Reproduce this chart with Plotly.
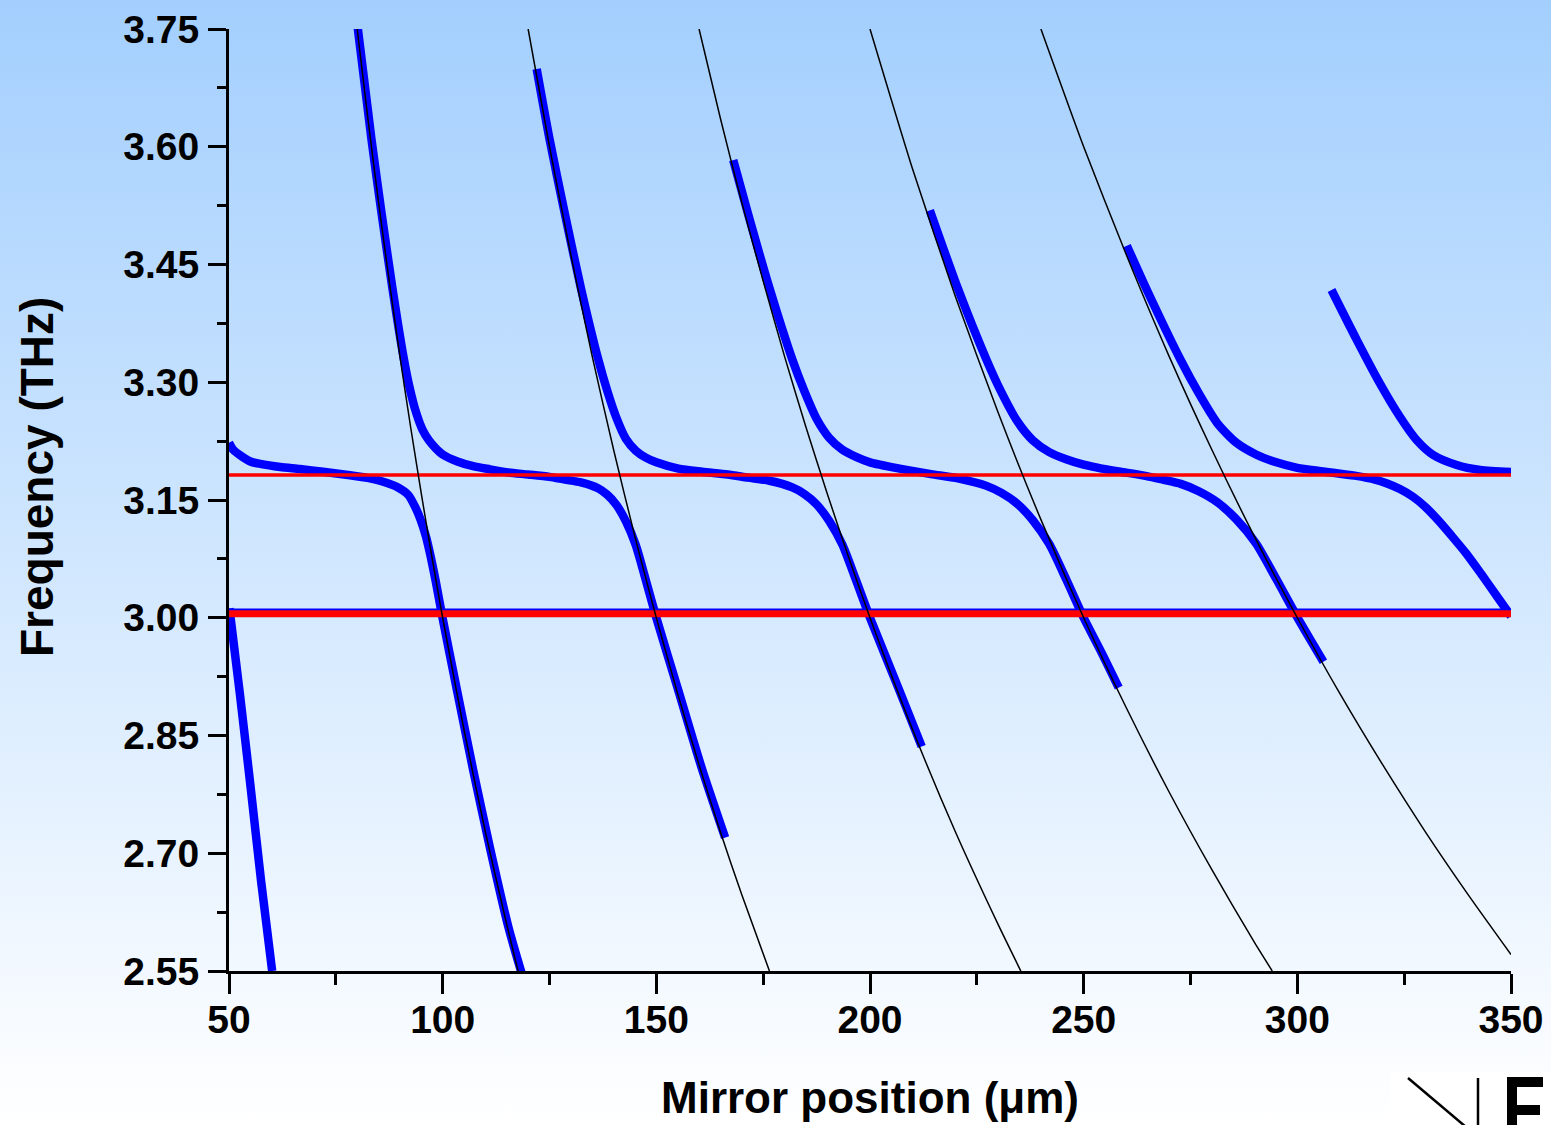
import base64
import plotly.graph_objects as go

# ---------------- data ----------------
# thin black curves: uncoupled cavity modes
black_m2_x = [80.0, 82.5, 85.0, 87.5, 90.0, 92.5, 95.0, 97.5, 100.0, 105.0, 110.0, 115.0, 117.65]
black_m2_y = [3.75, 3.636, 3.529, 3.429, 3.333, 3.243, 3.158, 3.077, 3.0, 2.857, 2.727, 2.609, 2.55]
black_m3_x = [120.0, 125.0, 130.0, 135.0, 140.0, 145.0, 150.0, 155.0, 160.0, 165.0, 170.0, 176.47]
black_m3_y = [3.75, 3.6, 3.462, 3.333, 3.214, 3.103, 3.0, 2.903, 2.8125, 2.727, 2.647, 2.55]
black_m4_x = [160.0, 165.0, 170.0, 175.0, 180.0, 185.0, 190.0, 195.0, 200.0, 210.0, 220.0, 230.0, 235.29]
black_m4_y = [3.75, 3.636, 3.529, 3.429, 3.333, 3.243, 3.158, 3.077, 3.0, 2.857, 2.727, 2.609, 2.55]
black_m5_x = [200.0, 210.0, 220.0, 230.0, 240.0, 250.0, 260.0, 270.0, 280.0, 290.0, 294.12]
black_m5_y = [3.75, 3.571, 3.409, 3.261, 3.125, 3.0, 2.885, 2.778, 2.679, 2.586, 2.55]
black_m6_x = [240.0, 250.0, 260.0, 270.0, 280.0, 290.0, 300.0, 310.0, 320.0, 330.0, 340.0, 350.0]
black_m6_y = [3.75, 3.6, 3.462, 3.333, 3.214, 3.103, 3.0, 2.903, 2.8125, 2.727, 2.647, 2.571]

# thick blue curves: coupled modes
blue_a_x = [50.1, 52.5, 55.0, 57.5, 60.1]
blue_a_y = [3.012, 2.905, 2.787, 2.665, 2.55]

blue_0_x = [50.0, 51.0, 52.6, 55.0, 57.3, 62.0, 66.6, 72.0, 78.3, 83.0, 86.1, 89.24, 91.96,
            93.53, 94.86, 96.10, 97.2, 98.36, 100.0, 103.45, 107.14, 111.11, 115.38, 118.6]
blue_0_y = [3.223, 3.214, 3.207, 3.199, 3.196, 3.192, 3.1895, 3.186, 3.1815, 3.1776, 3.1733, 3.167, 3.1564,
            3.1415, 3.1245, 3.1033, 3.0778, 3.047, 2.999, 2.905, 2.806, 2.706, 2.606, 2.545]

blue_1_x = [80.0, 83.33, 85.71, 88.24, 90.91, 92.31, 93.75, 95.24, 96.77, 98.36, 100.0, 103.45, 107.14,
            111.11, 115.38, 120.0, 125.0, 128.57, 132.35, 136.36, 138.46, 140.63, 142.86, 145.16,
            147.54, 150.0, 155.17, 160.71, 166.1]
blue_1_y = [3.757, 3.610, 3.515, 3.420, 3.330, 3.292, 3.262, 3.240, 3.226, 3.216, 3.208, 3.199, 3.193,
            3.189, 3.185, 3.1825, 3.1795, 3.176, 3.1725, 3.165, 3.157, 3.144, 3.123, 3.093,
            3.048, 3.000, 2.907, 2.807, 2.72]

blue_2_x = [122.0, 125.0, 128.57, 132.35, 136.36, 138.46, 140.63, 142.86, 145.16, 147.54, 150.0, 155.17,
            160.71, 166.67, 171.43, 176.47, 181.82, 184.62, 187.5, 190.48, 193.55, 196.72, 200.0,
            206.9, 212.1]
blue_2_y = [3.699, 3.610, 3.515, 3.420, 3.330, 3.290, 3.255, 3.228, 3.213, 3.204, 3.198, 3.190,
            3.186, 3.1825, 3.1785, 3.1745, 3.166, 3.1577, 3.1445, 3.123, 3.093, 3.048, 3.000,
            2.907, 2.836]

blue_3_x = [168.0, 171.43, 176.47, 181.82, 184.62, 187.5, 190.48, 193.55, 196.72, 200.0, 206.9, 214.29,
            220.59, 227.27, 230.77, 234.38, 238.1, 241.94, 245.9, 250.0, 254.24, 258.2]
blue_3_y = [3.583, 3.515, 3.420, 3.329, 3.289, 3.2535, 3.229, 3.214, 3.205, 3.198, 3.190, 3.183,
            3.1776, 3.168, 3.159, 3.1456, 3.1242, 3.094, 3.049, 3.000, 2.955, 2.911]

blue_4_x = [214.0, 220.59, 227.27, 230.77, 234.38, 238.1, 241.94, 245.9, 250.0, 254.24, 258.62, 264.71,
            268.66, 272.73, 276.92, 281.25, 285.71, 290.32, 295.08, 300.0, 306.1]
blue_4_y = [3.519, 3.419, 3.3285, 3.287, 3.251, 3.226, 3.211, 3.202, 3.195, 3.190, 3.186, 3.1805,
            3.1757, 3.1705, 3.1612, 3.1473, 3.1255, 3.0948, 3.0493, 3.0005, 2.944]

blue_5_x = [260.1, 264.71, 272.73, 276.92, 281.25, 285.71, 290.32, 295.08, 300.0, 305.08, 308.82, 313.43,
            318.18, 321.0, 324.0, 327.1, 330.0, 333.0, 336.0, 339.5, 343.0, 346.5, 350.0]
blue_5_y = [3.474, 3.4185, 3.328, 3.286, 3.248, 3.223, 3.208, 3.198, 3.191, 3.187, 3.1845, 3.181,
            3.176, 3.171, 3.164, 3.154, 3.141, 3.124, 3.105, 3.082, 3.056, 3.029, 3.002]

blue_6_x = [308.0, 313.9, 319.3, 324.0, 327.9, 331.8, 337.3, 342.8, 350.0]
blue_6_y = [3.4175, 3.354, 3.2987, 3.256, 3.2264, 3.2073, 3.1946, 3.1882, 3.1855]

flat_x = [50.0, 350.0]
blue_flat_y = [3.0066, 3.0066]
red_low_y = [3.0052, 3.0052]
red_high_y = [3.1818, 3.1818]

x_ticks = [50, 100, 150, 200, 250, 300, 350]
x_labels = ["50", "100", "150", "200", "250", "300", "350"]
x_minor = [75, 125, 175, 225, 275, 325]
y_ticks = [2.55, 2.70, 2.85, 3.00, 3.15, 3.30, 3.45, 3.60, 3.75]
y_labels = ["2.55", "2.70", "2.85", "3.00", "3.15", "3.30", "3.45", "3.60", "3.75"]
y_minor = [2.625, 2.775, 2.925, 3.075, 3.225, 3.375, 3.525, 3.675]

# ---------------- layout geometry ----------------
W, H = 1551, 1125
ML, MR, MT, MB = 229, 40, 29, 154
PW, PH = W - ML - MR, H - MT - MB


def px(xp):
    return (xp - ML) / PW


def py(yp):
    return 1 - (yp - MT) / PH


FONT = "Liberation Sans, Arial, Helvetica, sans-serif"
BLUE = "#0000FF"
RED = "#FF0000"

fig = go.Figure()

blue_curves = [(blue_a_x, blue_a_y), (blue_0_x, blue_0_y), (blue_1_x, blue_1_y), (blue_2_x, blue_2_y),
               (blue_3_x, blue_3_y), (blue_4_x, blue_4_y), (blue_5_x, blue_5_y), (blue_6_x, blue_6_y)]
fig.add_trace(go.Scatter(x=flat_x, y=blue_flat_y, mode="lines", line=dict(color=BLUE, width=8)))
for bx, by in blue_curves:
    fig.add_trace(go.Scatter(x=bx, y=by, mode="lines",
                             line=dict(color=BLUE, width=8.5, shape="spline", smoothing=0.7)))

fig.add_trace(go.Scatter(x=flat_x, y=red_low_y, mode="lines", line=dict(color=RED, width=7)))
fig.add_trace(go.Scatter(x=flat_x, y=red_high_y, mode="lines", line=dict(color=RED, width=3.5)))

for kx, ky in [(black_m2_x, black_m2_y), (black_m3_x, black_m3_y), (black_m4_x, black_m4_y),
               (black_m5_x, black_m5_y), (black_m6_x, black_m6_y)]:
    fig.add_trace(go.Scatter(x=kx, y=ky, mode="lines",
                             line=dict(color="black", width=1.5, shape="spline", smoothing=0.6)))

# gradient background (whole page)
svg = ('<svg xmlns="http://www.w3.org/2000/svg" width="100" height="100" preserveAspectRatio="none">'
       '<defs><linearGradient id="g" x1="0" y1="0" x2="0" y2="1">'
       '<stop offset="0" stop-color="#A3CFFE"/><stop offset="1" stop-color="#FFFFFF"/>'
       '</linearGradient></defs><rect width="100" height="100" fill="url(#g)"/></svg>')
src = "data:image/svg+xml;base64," + base64.b64encode(svg.encode()).decode()
fig.add_layout_image(dict(source=src, xref="paper", yref="paper", x=px(0), y=py(0),
                          sizex=W / PW, sizey=H / PH, xanchor="left", yanchor="top",
                          sizing="stretch", layer="below"))

tickfont = dict(family=FONT, size=39, color="black", weight="bold")
fig.update_xaxes(range=[50, 350], tickmode="array", tickvals=x_ticks, ticktext=x_labels,
                 ticks="outside", ticklen=20, tickwidth=3, tickcolor="black",
                 showline=True, linewidth=3, linecolor="black", showgrid=False, zeroline=False,
                 tickfont=tickfont, ticklabelstandoff=-8, automargin=False,
                 minor=dict(ticks="outside", tickvals=x_minor, ticklen=11, tickwidth=3,
                            tickcolor="black", showgrid=False))
fig.update_yaxes(range=[2.55, 3.75], tickmode="array", tickvals=y_ticks, ticktext=y_labels,
                 ticks="outside", ticklen=18, tickwidth=3, tickcolor="black",
                 showline=True, linewidth=3, linecolor="black", showgrid=False, zeroline=False,
                 tickfont=tickfont, ticklabelstandoff=1, automargin=False,
                 minor=dict(ticks="outside", tickvals=y_minor, ticklen=9, tickwidth=3,
                            tickcolor="black", showgrid=False))

annotations = [
    dict(text="Mirror position (μm)", x=px(870), y=py(1097), xref="paper", yref="paper",
         xanchor="center", yanchor="middle", showarrow=False,
         font=dict(family=FONT, size=44, color="black", weight="bold")),
    dict(text="Frequency (THz)", x=px(37), y=py(477), xref="paper", yref="paper",
         xanchor="center", yanchor="middle", showarrow=False, textangle=-90,
         font=dict(family=FONT, size=46, color="black", weight="bold")),
]

# small "NF" logo in the bottom-right corner
shapes = [
    dict(type="rect", xref="paper", yref="paper", x0=px(1390), x1=px(1560), y0=py(1130), y1=py(1072),
         fillcolor="white", line=dict(width=0), layer="above"),
    dict(type="line", xref="paper", yref="paper", x0=px(1408), y0=py(1078), x1=px(1466), y1=py(1127),
         line=dict(color="black", width=2.5), layer="above"),
    dict(type="line", xref="paper", yref="paper", x0=px(1478), y0=py(1078), x1=px(1478), y1=py(1130),
         line=dict(color="black", width=2.5), layer="above"),
    dict(type="rect", xref="paper", yref="paper", x0=px(1507), x1=px(1517), y0=py(1130), y1=py(1077),
         fillcolor="black", line=dict(width=0), layer="above"),
    dict(type="rect", xref="paper", yref="paper", x0=px(1507), x1=px(1543), y0=py(1087), y1=py(1077),
         fillcolor="black", line=dict(width=0), layer="above"),
    dict(type="rect", xref="paper", yref="paper", x0=px(1507), x1=px(1540), y0=py(1115), y1=py(1105),
         fillcolor="black", line=dict(width=0), layer="above"),
]

fig.update_layout(width=W, height=H, margin=dict(l=ML, r=MR, t=MT, b=MB, pad=0, autoexpand=False),
                  paper_bgcolor="rgba(0,0,0,0)", plot_bgcolor="rgba(0,0,0,0)",
                  showlegend=False, annotations=annotations, shapes=shapes, hovermode=False)

fig.write_html("out.html")
